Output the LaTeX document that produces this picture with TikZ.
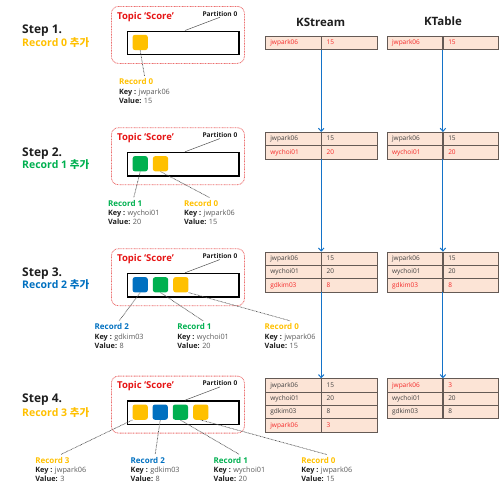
\documentclass[tikz,border=0pt]{standalone}
\usepackage{fontspec}
\setmainfont{Open Sans}
\newfontfamily\kr{Noto Sans CJK KR}
\usetikzlibrary{calc,arrows.meta}
\definecolor{ryellow}{RGB}{255,192,0}
\definecolor{rgreen}{RGB}{0,176,80}
\definecolor{rblue}{RGB}{0,112,192}
\definecolor{topicred}{RGB}{230,20,20}
\definecolor{topicborder}{RGB}{235,110,110}
\definecolor{tabfill}{RGB}{252,228,214}
\definecolor{tabdraw}{RGB}{100,90,85}
\definecolor{tabred}{RGB}{245,40,40}
\definecolor{tabdark}{RGB}{64,64,64}
\definecolor{flowblue}{RGB}{20,115,200}
\definecolor{keydark}{RGB}{30,30,30}
\definecolor{keygray}{RGB}{90,90,90}
\definecolor{linegray}{RGB}{80,80,80}

\newcommand\topicbox[2]{%
  \node[topicframe] (topic#1) at (111,#2) {};
  \node[topictitle] (title#1) at (117,#2+13) {Topic ‘Score’};
  \node[partlabel] (part#1) at (238.5,#2+10) {Partition 0};
  \node[partbox] (pbox#1) at (126.7,#2+24.5) {};
  \coordinate (pin#1) at ($(pbox#1.north west)+(58.3,0)$);
  \draw[partline] (pin#1) -- (part#1.south);
}
\newcommand\tabrow[6]{%
  \node[cell, text=#6] (#1-k) at (#2,#3) {#4};
  \node[cell, text=#6] (#1-v) at (#1-k.north east) {#5};
}
\newcommand\reclabel[7]{%
  \node[reclab] (#1) at (#2,#3) {{\fontsize{8}{9.2}\selectfont\bfseries\color{#4}Record #5}\\\textbf{Key :} {\color{keygray}#6}\\\textbf{Value:} {\color{keygray}#7}};
}

\begin{document}
\begin{tikzpicture}[x=1pt,y=-1pt,
  topicframe/.style={draw=topicborder, line width=0.8pt, dash pattern=on 0.9pt off 0.7pt,
    rounded corners=7pt, minimum width=133pt, minimum height=57pt, anchor=north west, inner sep=0},
  topictitle/.style={anchor=base west, inner sep=0, text=topicred, font=\fontsize{9.5}{11}\selectfont\bfseries},
  partlabel/.style={anchor=base east, inner sep=1pt, text=keydark, font=\fontsize{6.6}{8}\selectfont\bfseries},
  partbox/.style={draw=black, line width=1.3pt, fill=white, minimum width=111.6pt, minimum height=23.5pt,
    anchor=north west, inner sep=0},
  partline/.style={draw=linegray, line width=0.5pt},
  rec/.style={minimum size=15.3pt, rounded corners=2.5pt, inner sep=0},
  cell/.style={draw=tabdraw, fill=tabfill, line width=0.7pt, anchor=north west, minimum height=13.33pt,
    text width=45.5pt, inner xsep=5pt, inner ysep=0, align=left, text height=4.8pt, text depth=1.2pt,
    font=\fontsize{6.5}{7.5}\selectfont},
  flow/.style={draw=flowblue, line width=1.1pt, -{Straight Barb[length=3pt,width=5.5pt,line width=1pt]}},
  steplab/.style={anchor=base west, inner sep=0, text=keydark, font=\fontsize{12}{14}\selectfont\bfseries},
  stepsub/.style={anchor=base west, inner sep=0, font=\fontsize{10.5}{12}\selectfont\bfseries},
  reclab/.style={anchor=north west, inner sep=0, outer sep=3pt, align=left, text=keydark,
    font=\fontsize{7.3}{9.2}\selectfont},
  dotline/.style={draw=linegray, line width=0.7pt, dash pattern=on 0.7pt off 0.7pt},
  header/.style={anchor=base, inner sep=0, text=keydark, font=\fontsize{11.5}{13}\selectfont\bfseries}
]
\useasboundingbox (0,0) rectangle (500,493);

% headers
\node[header] (hks) at (320.7,26.3) {KStream};
\node[header] (hkt) at (443,25.3) {KTable};

% ---------- Step 1 ----------
\node[steplab] (st1) at (22,33.6) {Step 1.};
\node[stepsub, text=ryellow] (ss1) at (22,46.7) {Record 0 {\kr 추가}};
\topicbox{1}{6}
\node[rec, fill=ryellow] (q10) at (140.2,42.45) {};
\reclabel{l10}{116}{75.8}{ryellow}{0}{jwpark06}{15}
\draw[dotline] (q10.south) -- (l10.north);

% ---------- Step 2 ----------
\node[steplab] (st2) at (22,156) {Step 2.};
\node[stepsub, text=rgreen] (ss2) at (22,168.7) {Record 1 {\kr 추가}};
\topicbox{2}{127.3}
\node[rec, fill=rgreen] (q21) at (140.2,163.75) {};
\node[rec, fill=ryellow] (q20) at (160.5,163.75) {};
\reclabel{l21}{105}{197.5}{rgreen}{1}{wychoi01}{20}
\reclabel{l20}{181}{197.5}{ryellow}{0}{jwpark06}{15}
\draw[dotline] (q21.south) -- (l21.north);
\draw[dotline] (q20.south) -- (l20.north);

% ---------- Step 3 ----------
\node[steplab] (st3) at (22,276) {Step 3.};
\node[stepsub, text=rblue] (ss3) at (22,288.7) {Record 2 {\kr 추가}};
\topicbox{3}{248.3}
\node[rec, fill=rblue] (q32) at (140.2,284.75) {};
\node[rec, fill=rgreen] (q31) at (160.5,284.75) {};
\node[rec, fill=ryellow] (q30) at (180.8,284.75) {};
\reclabel{l32}{91.7}{320.8}{rblue}{2}{gdkim03}{8}
\reclabel{l31}{174.3}{320.8}{rgreen}{1}{wychoi01}{20}
\reclabel{l30}{261.7}{320.8}{ryellow}{0}{jwpark06}{15}
\draw[dotline] (q32.south) -- (l32.north);
\draw[dotline] (q31.south) -- (l31.north);
\draw[dotline] (q30.south east) -- (l30.north);

% ---------- Step 4 ----------
\node[steplab] (st4) at (22,402.6) {Step 4.};
\node[stepsub, text=ryellow] (ss4) at (22,416.4) {Record 3 {\kr 추가}};
\topicbox{4}{375.7}
\node[rec, fill=ryellow] (q43) at (140.2,412.15) {};
\node[rec, fill=rblue] (q42) at (160.2,412.15) {};
\node[rec, fill=rgreen] (q41) at (180.4,412.15) {};
\node[rec, fill=ryellow] (q40) at (200.8,412.15) {};
\reclabel{l43}{32.3}{454.5}{ryellow}{3}{jwpark06}{3}
\reclabel{l42}{127.7}{454.5}{rblue}{2}{gdkim03}{8}
\reclabel{l41}{210.7}{454.5}{rgreen}{1}{wychoi01}{20}
\reclabel{l40}{298.3}{454.5}{ryellow}{0}{jwpark06}{15}
\draw[dotline] (q43.south west) -- (l43.north);
\draw[dotline] (q42.south) -- (l42.north);
\draw[dotline] (q41.south) -- (l41.north);
\draw[dotline] (q40.south) -- (l40.north);

% ---------- KStream tables ----------
\tabrow{ks11}{265}{36}{jwpark06}{15}{tabred}
\tabrow{ks21}{265}{132}{jwpark06}{15}{tabdark}
\tabrow{ks22}{265}{145.33}{wychoi01}{20}{tabred}
\tabrow{ks31}{265}{251.7}{jwpark06}{15}{tabdark}
\tabrow{ks32}{265}{265.03}{wychoi01}{20}{tabdark}
\tabrow{ks33}{265}{278.36}{gdkim03}{8}{tabred}
\tabrow{ks41}{265}{378.3}{jwpark06}{15}{tabdark}
\tabrow{ks42}{265}{391.63}{wychoi01}{20}{tabdark}
\tabrow{ks43}{265}{404.96}{gdkim03}{8}{tabdark}
\tabrow{ks44}{265}{418.29}{jwpark06}{3}{tabred}

% ---------- KTable tables ----------
\tabrow{kt11}{386.7}{36}{jwpark06}{15}{tabred}
\tabrow{kt21}{386.7}{132}{jwpark06}{15}{tabdark}
\tabrow{kt22}{386.7}{145.33}{wychoi01}{20}{tabred}
\tabrow{kt31}{386.7}{251.7}{jwpark06}{15}{tabdark}
\tabrow{kt32}{386.7}{265.03}{wychoi01}{20}{tabdark}
\tabrow{kt33}{386.7}{278.36}{gdkim03}{8}{tabred}
\tabrow{kt41}{386.7}{378.3}{jwpark06}{3}{tabred}
\tabrow{kt42}{386.7}{391.63}{wychoi01}{20}{tabdark}
\tabrow{kt43}{386.7}{404.96}{gdkim03}{8}{tabdark}

% ---------- flow arrows ----------
\draw[flow] (ks11-k.south east) -- (ks21-k.north east);
\draw[flow] (ks22-k.south east) -- (ks31-k.north east);
\draw[flow] (ks33-k.south east) -- (ks41-k.north east);
\draw[flow] (kt11-k.south east) -- (kt21-k.north east);
\draw[flow] (kt22-k.south east) -- (kt31-k.north east);
\draw[flow] (kt33-k.south east) -- (kt41-k.north east);
\end{tikzpicture}
\end{document}
